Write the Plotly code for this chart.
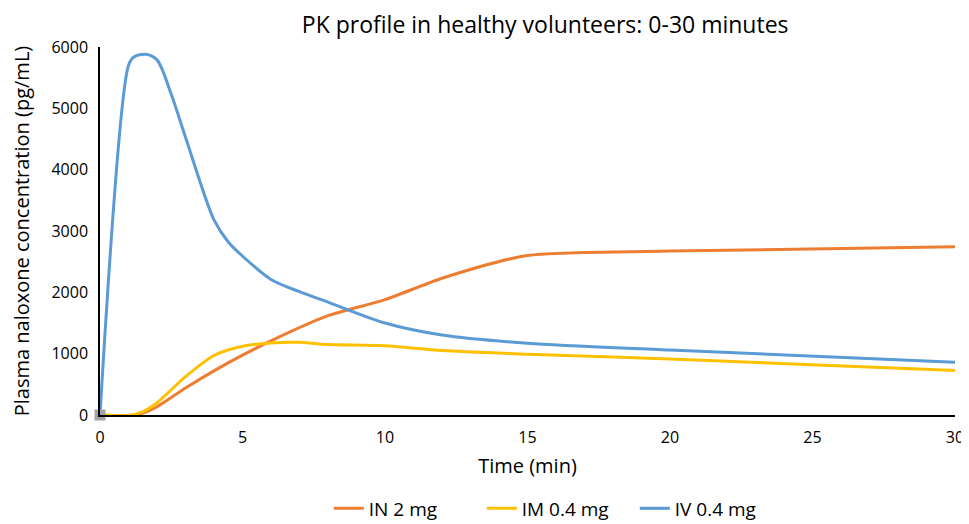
import plotly.graph_objects as go

# IN 2 mg
in_times = [0, 1, 1.5, 2, 3, 4, 5, 6, 8, 10, 12, 15, 20, 30]
in_2mg = [0, -10, 30, 135, 440, 720, 975, 1210, 1620, 1880, 2230, 2600, 2672, 2745]
# IM 0.4 mg
im_times = [0, 1, 1.5, 2, 3, 4, 5, 6, 7, 8, 10, 12, 15, 20, 30]
im_04mg = [0, -10, 54, 200, 625, 970, 1120, 1175, 1185, 1150, 1130, 1050, 990, 913, 725]
# IV 0.4 mg
iv_times = [0, 1, 1.2, 1.6, 2, 2.5, 3, 4, 4.5, 5, 6, 7, 8, 10, 12, 15, 20, 30]
iv_04mg = [0, 5700, 5840, 5880, 5790, 5230, 4530, 3180, 2820, 2590, 2210, 2010, 1840, 1500, 1304, 1170, 1060, 860]
# baseline marker
baseline_t = [0]
baseline_c = [0]

font = "Open Sans, Noto Sans, sans-serif"

fig = go.Figure()
fig.add_trace(go.Scatter(x=in_times, y=in_2mg, name="IN 2 mg", mode="lines",
                         line=dict(color="#ED7D31", width=3, shape="spline", smoothing=0.7)))
fig.add_trace(go.Scatter(x=im_times, y=im_04mg, name="IM 0.4 mg", mode="lines",
                         line=dict(color="#FFC000", width=3, shape="spline", smoothing=0.7)))
fig.add_trace(go.Scatter(x=iv_times, y=iv_04mg, name="IV 0.4 mg", mode="lines",
                         line=dict(color="#5B9BD5", width=3, shape="spline", smoothing=0.85)))
fig.add_trace(go.Scatter(x=baseline_t, y=baseline_c, mode="markers", showlegend=False,
                         marker=dict(symbol="square", size=11, color="#A5A5A5"),
                         cliponaxis=False, hoverinfo="skip"))

fig.update_layout(
    width=961, height=516,
    margin=dict(l=92, r=14, t=39, b=109),
    paper_bgcolor="white", plot_bgcolor="white",
    font=dict(family=font, size=16, color="#000000"),
    title=dict(text="PK profile in healthy volunteers: 0-30 minutes",
               x=0.559, xanchor="center", y=0.967, yanchor="middle",
               font=dict(size=23, family=font, color="#000000")),
    showlegend=True,
    legend=dict(orientation="h", x=0.536, xanchor="center", xref="paper",
                y=0.03, yanchor="middle", yref="container",
                entrywidth=108, entrywidthmode="pixels",
                font=dict(size=19), traceorder="normal"),
    xaxis=dict(range=[0, 30], tickvals=[0, 5, 10, 15, 20, 25, 30], automargin=False,
               showgrid=False, zeroline=False, showline=True, linecolor="#000000", linewidth=1.5,
               ticks="", tickfont=dict(size=16), ticklabelstandoff=7,
               title=dict(text="Time (min)", font=dict(size=20), standoff=12)),
    yaxis=dict(range=[0, 6000], tickvals=[0, 1000, 2000, 3000, 4000, 5000, 6000], automargin=False,
               showgrid=False, zeroline=False, showline=True, linecolor="#000000", linewidth=1.5,
               ticks="", tickfont=dict(size=16), ticklabelstandoff=7,
               title=dict(text="Plasma naloxone concentration (pg/mL)", font=dict(size=20), standoff=16)),
)

fig.write_html("out.html")
